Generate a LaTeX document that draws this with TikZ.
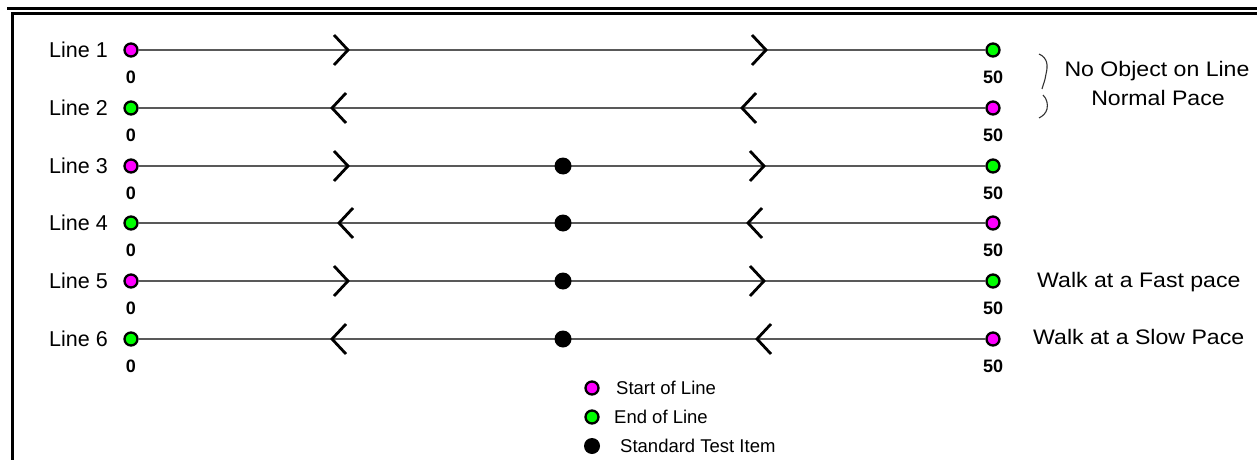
\documentclass[tikz,border=0pt]{standalone}
\usepackage{fontspec}
\setmainfont{Liberation Sans}
\newfontfamily\widefont[FakeStretch=1.1]{Liberation Sans}
\definecolor{startcol}{RGB}{255,0,255}
\definecolor{endcol}{RGB}{0,255,0}
\begin{document}
\begin{tikzpicture}[x=1pt,y=-1pt,
  frame/.style={line width=3pt, black},
  track/.style={draw=black!65, line width=1.8pt},
  chev/.style={draw=black, line width=2.8pt},
  marker/.style={circle, draw=black, line width=2.3pt, minimum size=13pt, inner sep=0pt},
  startpt/.style={marker, fill=startcol},
  endpt/.style={marker, fill=endcol},
  testitem/.style={circle, fill=black, minimum size=17pt, inner sep=0pt},
  linelabel/.style={anchor=east, inner sep=0pt, font=\fontsize{21.5}{24}\selectfont},
  distlabel/.style={inner sep=0pt, font=\fontsize{18}{21}\selectfont\bfseries},
  note/.style={inner sep=0pt, font=\fontsize{21}{24}\widefont},
  legendtext/.style={anchor=west, inner sep=0pt, font=\fontsize{18.5}{22}\selectfont},
  pics/chevright/.style={code={\draw[chev] (-14,-15) -- (0,0) -- (-14,15);}},
  pics/chevleft/.style={code={\draw[chev] (14,-15) -- (0,0) -- (14,15);}}
]
\useasboundingbox (0,0) rectangle (1257,460);

% frame: double rule on top, rule on the left
\draw[frame] (7,9) -- (1257,9);
\draw[frame] (12,460) -- (12,13.5) -- (1257,13.5);

% the six walking lines: odd rows run left to right, even rows right to left
\foreach \i/\y/\ta/\tb in {1/50/348/766, 2/108/332/742, 3/166/348/764,
                           4/223/339/748, 5/281/348/764, 6/339/332/757}{
  \ifodd\i
    \node[startpt] (a\i) at (131,\y) {};
    \node[endpt]   (b\i) at (993,\y) {};
  \else
    \node[endpt]   (a\i) at (131,\y) {};
    \node[startpt] (b\i) at (993,\y) {};
  \fi
  \draw[track] (a\i) -- (b\i);
  \ifodd\i
    \pic at (\ta,\y) {chevright};
    \pic at (\tb,\y) {chevright};
  \else
    \pic at (\ta,\y) {chevleft};
    \pic at (\tb,\y) {chevleft};
  \fi
  \node[linelabel] (lab\i) at (108,\y) {Line \i};
  \node[distlabel] (z\i) at (131,\y+27) {0};
  \node[distlabel] (f\i) at (993,\y+27) {50};
}

% standard test item on lines 3 to 6
\foreach \i/\y in {3/166, 4/223, 5/281, 6/339}
  \node[testitem] (t\i) at (563,\y) {};

% notes on the right
\draw[black!80, line width=1.1pt]
  (1039,54) .. controls (1048,58) and (1048,66) .. (1046,74)
            .. controls (1045,81) and (1043,85) .. (1042,89);
\draw[black!80, line width=1.1pt]
  (1043,95) .. controls (1047,99) and (1048,104) .. (1047,109)
            .. controls (1046,113) and (1043,116) .. (1039,118);
\node[note, anchor=base] (n1) at (1157,77) {No Object on Line};
\node[note, anchor=base] (n2) at (1158,105) {Normal Pace};
\node[note, anchor=base west] (n5) at (1037,287) {Walk at a Fast pace};
\node[note, anchor=base west] (n6) at (1033,344) {Walk at a Slow Pace};

% legend
\node[startpt] (k1) at (592,388) {};
\node[endpt]   (k2) at (592,417) {};
\node[testitem, minimum size=16pt] (k3) at (592,446) {};
\node[legendtext] at (616,388) {Start of Line};
\node[legendtext] at (614,417) {End of Line};
\node[legendtext] at (620,446) {Standard Test Item};
\end{tikzpicture}
\end{document}
